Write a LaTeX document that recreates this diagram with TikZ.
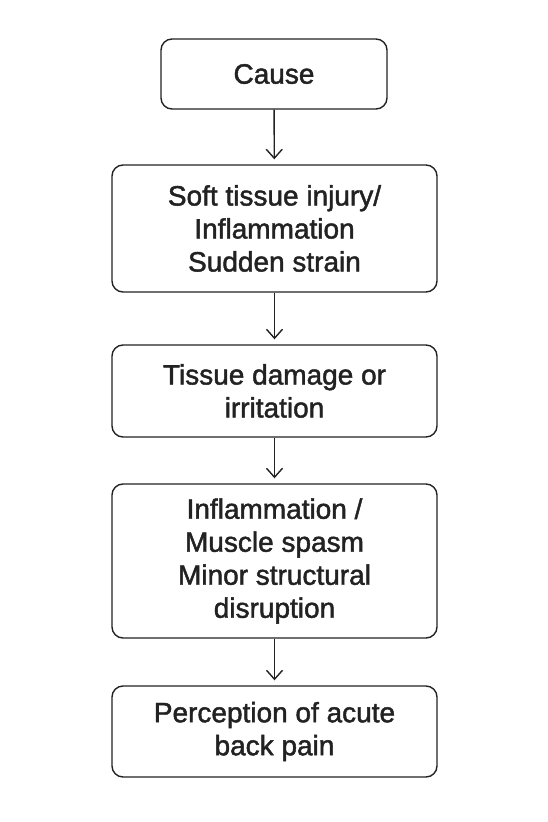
\documentclass[tikz,border=0pt]{standalone}
\usepackage{fontspec}
\setmainfont{Liberation Sans}
\newfontfamily\boxfont{Liberation Sans}[FakeBold=1.6]
\usepackage{tikz}
\usetikzlibrary{arrows.meta}

\definecolor{ink}{HTML}{222222}
\tikzset{
	box/.style={shape=rectangle, draw=ink, line width=1.4pt, rounded corners=11pt,
		align=center, text=ink, inner sep=0pt,
		font=\boxfont\fontsize{28}{33}\selectfont},
	flow/.style={-{Straight Barb[length=9pt,width=16pt,line width=1.4pt]}, draw=ink,
		line width=1.4pt, shorten >=5pt}
}

\begin{document}
\begin{tikzpicture}[x=1pt,y=-1pt]
	
	\useasboundingbox (0,0) rectangle (548,822);
	
	\node[box, minimum width=226pt, minimum height=70pt]  (cause)  at (274, 74)    {Cause};
	\node[box, minimum width=325pt, minimum height=127pt] (injury) at (274.5, 228.5) {Soft tissue injury/\\Inflammation\\Sudden strain};
	\node[box, minimum width=325pt, minimum height=92pt]  (damage) at (274.5, 391)  {Tissue damage or\\irritation};
	\node[box, minimum width=325pt, minimum height=154pt] (spasm)  at (274.5, 561)  {Inflammation /\\Muscle spasm\\Minor structural\\disruption};
	\node[box, minimum width=325pt, minimum height=91pt]  (pain)   at (274.5, 731.5) {Perception of acute\\back pain};
	
	\path[flow] (cause)  edge (injury);
	\path[flow] (injury) edge (damage);
	\path[flow] (damage) edge (spasm);
	\path[flow] (spasm)  edge (pain);
	
\end{tikzpicture}
\end{document}
